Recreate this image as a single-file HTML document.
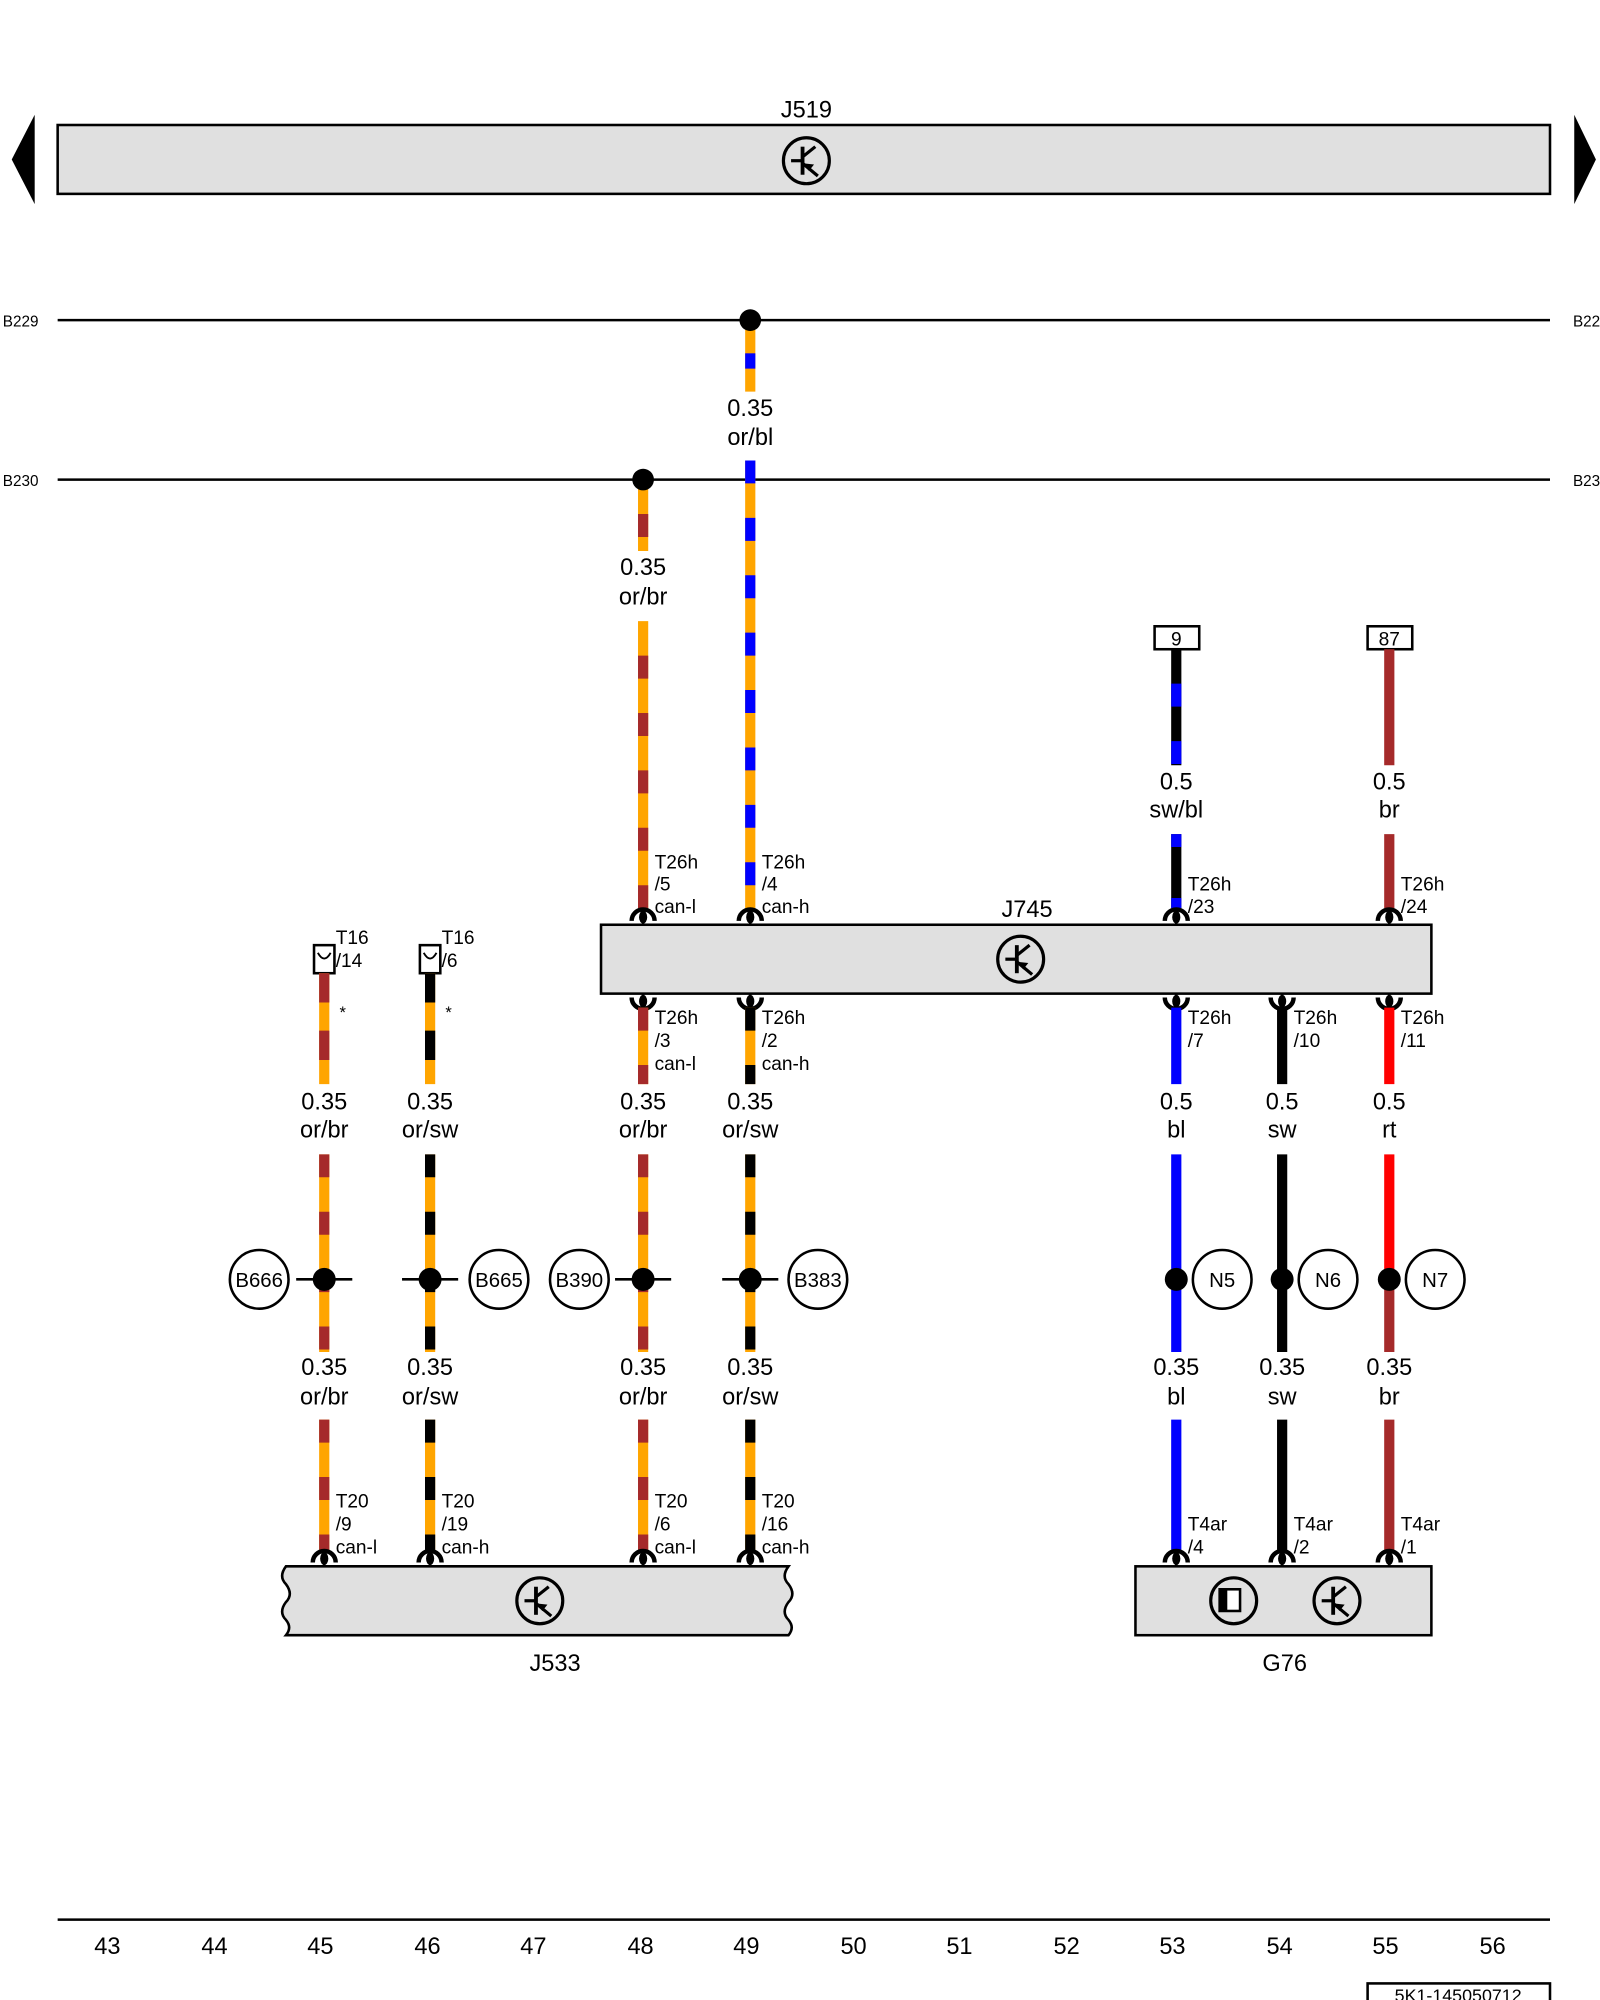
<!DOCTYPE html>
<html><head><meta charset="utf-8"><style>html,body{margin:0;padding:0;background:#fff}svg{display:block}</style></head>
<body>
<svg width="1600" height="2000" viewBox="0 0 1254 1568" xmlns="http://www.w3.org/2000/svg" font-family="Liberation Sans, sans-serif">
<defs>
<g id="ct"><path d="M-9,-3 a9,9 0 0 1 18,0" fill="none" stroke="#000" stroke-width="3.5"/><ellipse cx="0" cy="-6" rx="3.2" ry="5" fill="#000"/><line x1="0" y1="-6" x2="0" y2="0" stroke="#000" stroke-width="2"/></g>
<g id="cb"><g transform="scale(1,-1)"><use href="#ct"/></g></g>
<g id="tr"><circle r="18" fill="none" stroke="#000" stroke-width="2.5"/><line x1="-3" y1="-11" x2="-3" y2="11" stroke="#000" stroke-width="3"/><line x1="-12" y1="0" x2="-3" y2="0" stroke="#000" stroke-width="2.5"/><line x1="-3" y1="-3" x2="7" y2="-11" stroke="#000" stroke-width="2.5"/><line x1="-3" y1="2" x2="9" y2="12" stroke="#000" stroke-width="2.5"/><polygon points="-3,2 6,3 2,8" fill="#000"/></g>
</defs>
<style>.n{font-size:18.5px;text-anchor:middle}.t{font-size:15px}.w{stroke-width:8}</style>

<rect x="45" y="98" width="1170" height="54" fill="#e0e0e0" stroke="#000" stroke-width="2"/>
<text x="632" y="92" class="n">J519</text>
<use href="#tr" x="632" y="126"/>
<polygon points="27,90 27,160 9,125" fill="#000"/>
<polygon points="1234,90 1234,160 1251,125" fill="#000"/>

<line x1="45" y1="251" x2="1215" y2="251" stroke="#000" stroke-width="2"/>
<line x1="45" y1="376" x2="1215" y2="376" stroke="#000" stroke-width="2"/>
<text x="2" y="256" font-size="12">B229</text><text x="1233" y="256" font-size="12">B22</text>
<text x="2" y="381" font-size="12">B230</text><text x="1233" y="381" font-size="12">B23</text>

<line x1="588" y1="251" x2="588" y2="307" stroke="orange" class="w"/>
<line x1="588" y1="251" x2="588" y2="307" stroke="#00f" class="w" stroke-dasharray="12 26" stroke-dashoffset="-26"/>
<circle cx="588" cy="251" r="8.5"/>
<text x="588" y="326" class="n">0.35</text><text x="588" y="349" class="n">or/bl</text>
<line x1="588" y1="361" x2="588" y2="712" stroke="orange" class="w"/>
<line x1="588" y1="361" x2="588" y2="712" stroke="#00f" class="w" stroke-dasharray="18 27" stroke-dashoffset="0"/>

<line x1="504" y1="376" x2="504" y2="432" stroke="orange" class="w"/>
<line x1="504" y1="376" x2="504" y2="432" stroke="#a52a2a" class="w" stroke-dasharray="18 27" stroke-dashoffset="-27"/>
<circle cx="504" cy="376" r="8.5"/>
<text x="504" y="451" class="n">0.35</text><text x="504" y="474" class="n">or/br</text>
<line x1="504" y1="487" x2="504" y2="712" stroke="orange" class="w"/>
<line x1="504" y1="487" x2="504" y2="712" stroke="#a52a2a" class="w" stroke-dasharray="18 27" stroke-dashoffset="-27"/>

<rect x="905" y="491" width="35" height="18" fill="#fff" stroke="#000" stroke-width="2"/><text x="922" y="506" text-anchor="middle" font-size="15">9</text>
<rect x="1072" y="491" width="35" height="18" fill="#fff" stroke="#000" stroke-width="2"/><text x="1089" y="506" text-anchor="middle" font-size="15">87</text>
<line x1="922" y1="509" x2="922" y2="600" stroke="#000" class="w"/>
<line x1="922" y1="509" x2="922" y2="600" stroke="#00f" class="w" stroke-dasharray="18 27" stroke-dashoffset="-27"/>
<line x1="922" y1="654" x2="922" y2="712" stroke="#000" class="w"/>
<line x1="922" y1="654" x2="922" y2="712" stroke="#00f" class="w" stroke-dasharray="10 40"/>
<text x="922" y="619" class="n">0.5</text><text x="922" y="641" class="n">sw/bl</text>
<line x1="1089" y1="509" x2="1089" y2="600" stroke="#a52a2a" class="w"/>
<line x1="1089" y1="654" x2="1089" y2="712" stroke="#a52a2a" class="w"/>
<text x="1089" y="619" class="n">0.5</text><text x="1089" y="641" class="n">br</text>

<rect x="471" y="725" width="651" height="54" fill="#e0e0e0" stroke="#000" stroke-width="2"/>
<text x="805" y="719" class="n">J745</text>
<use href="#tr" x="800" y="752"/>
<use href="#ct" x="504" y="725"/><use href="#ct" x="588" y="725"/><use href="#ct" x="922" y="725"/><use href="#ct" x="1089" y="725"/>
<text class="t" x="513" y="681">T26h</text><text class="t" x="513" y="698">/5</text><text class="t" x="513" y="716">can-l</text>
<text class="t" x="597" y="681">T26h</text><text class="t" x="597" y="698">/4</text><text class="t" x="597" y="716">can-h</text>
<text class="t" x="931" y="698">T26h</text><text class="t" x="931" y="716">/23</text>
<text class="t" x="1098" y="698">T26h</text><text class="t" x="1098" y="716">/24</text>

<use href="#cb" x="504" y="779"/><use href="#cb" x="588" y="779"/><use href="#cb" x="922" y="779"/><use href="#cb" x="1005" y="779"/><use href="#cb" x="1089" y="779"/>
<text class="t" x="513" y="803">T26h</text><text class="t" x="513" y="821">/3</text><text class="t" x="513" y="839">can-l</text>
<text class="t" x="597" y="803">T26h</text><text class="t" x="597" y="821">/2</text><text class="t" x="597" y="839">can-h</text>
<text class="t" x="931" y="803">T26h</text><text class="t" x="931" y="821">/7</text>
<text class="t" x="1014" y="803">T26h</text><text class="t" x="1014" y="821">/10</text>
<text class="t" x="1098" y="803">T26h</text><text class="t" x="1098" y="821">/11</text>

<line x1="504" y1="790" x2="504" y2="850" stroke="orange" class="w"/><line x1="504" y1="790" x2="504" y2="850" stroke="#a52a2a" class="w" stroke-dasharray="18 27"/>
<line x1="588" y1="790" x2="588" y2="850" stroke="orange" class="w"/><line x1="588" y1="790" x2="588" y2="850" stroke="#000" class="w" stroke-dasharray="18 27"/>
<line x1="922" y1="790" x2="922" y2="850" stroke="#00f" class="w"/>
<line x1="1005" y1="790" x2="1005" y2="850" stroke="#000" class="w"/>
<line x1="1089" y1="790" x2="1089" y2="850" stroke="#f00" class="w"/>

<rect x="246" y="741" width="16" height="22" fill="#fff" stroke="#000" stroke-width="2"/><path d="M249,747 q5,9 10,0" fill="none" stroke="#000" stroke-width="1.5"/>
<rect x="329" y="741" width="16" height="22" fill="#fff" stroke="#000" stroke-width="2"/><path d="M332,747 q5,9 10,0" fill="none" stroke="#000" stroke-width="1.5"/>
<text class="t" x="263" y="740">T16</text><text class="t" x="263" y="758">/14</text>
<text class="t" x="346" y="740">T16</text><text class="t" x="346" y="758">/6</text>
<text x="266" y="798" font-size="13">*</text><text x="349" y="798" font-size="13">*</text>
<line x1="254" y1="763" x2="254" y2="850" stroke="orange" class="w"/><line x1="254" y1="763" x2="254" y2="850" stroke="#a52a2a" class="w" stroke-dasharray="23 22"/>
<line x1="337" y1="763" x2="337" y2="850" stroke="orange" class="w"/><line x1="337" y1="763" x2="337" y2="850" stroke="#000" class="w" stroke-dasharray="23 22"/>

<g class="n">
<text x="254" y="870">0.35</text><text x="254" y="892">or/br</text>
<text x="337" y="870">0.35</text><text x="337" y="892">or/sw</text>
<text x="504" y="870">0.35</text><text x="504" y="892">or/br</text>
<text x="588" y="870">0.35</text><text x="588" y="892">or/sw</text>
<text x="922" y="870">0.5</text><text x="922" y="892">bl</text>
<text x="1005" y="870">0.5</text><text x="1005" y="892">sw</text>
<text x="1089" y="870">0.5</text><text x="1089" y="892">rt</text>
</g>

<g class="w">
<line x1="254" y1="905" x2="254" y2="1060" stroke="orange"/><line x1="254" y1="905" x2="254" y2="1060" stroke="#a52a2a" stroke-dasharray="18 27"/>
<line x1="337" y1="905" x2="337" y2="1060" stroke="orange"/><line x1="337" y1="905" x2="337" y2="1060" stroke="#000" stroke-dasharray="18 27"/>
<line x1="504" y1="905" x2="504" y2="1060" stroke="orange"/><line x1="504" y1="905" x2="504" y2="1060" stroke="#a52a2a" stroke-dasharray="18 27"/>
<line x1="588" y1="905" x2="588" y2="1060" stroke="orange"/><line x1="588" y1="905" x2="588" y2="1060" stroke="#000" stroke-dasharray="18 27"/>
<line x1="922" y1="905" x2="922" y2="1060" stroke="#00f"/>
<line x1="1005" y1="905" x2="1005" y2="1060" stroke="#000"/>
<line x1="1089" y1="905" x2="1089" y2="1003" stroke="#f00"/>
<line x1="1089" y1="1003" x2="1089" y2="1060" stroke="#a52a2a"/>
</g>
<g stroke="#000" stroke-width="2">
<line x1="232" y1="1003" x2="276" y2="1003"/><line x1="315" y1="1003" x2="359" y2="1003"/>
<line x1="482" y1="1003" x2="526" y2="1003"/><line x1="566" y1="1003" x2="610" y2="1003"/>
</g>
<g>
<circle cx="254" cy="1003" r="9"/><circle cx="337" cy="1003" r="9"/><circle cx="504" cy="1003" r="9"/><circle cx="588" cy="1003" r="9"/>
<circle cx="922" cy="1003" r="9"/><circle cx="1005" cy="1003" r="9"/><circle cx="1089" cy="1003" r="9"/>
</g>
<g fill="#fff" stroke="#000" stroke-width="2">
<circle cx="203" cy="1003" r="23"/><circle cx="391" cy="1003" r="23"/><circle cx="454" cy="1003" r="23"/><circle cx="641" cy="1003" r="23"/>
<circle cx="958" cy="1003" r="23"/><circle cx="1041" cy="1003" r="23"/><circle cx="1125" cy="1003" r="23"/>
</g>
<g text-anchor="middle" font-size="16">
<text x="203" y="1009">B666</text><text x="391" y="1009">B665</text><text x="454" y="1009">B390</text><text x="641" y="1009">B383</text>
<text x="958" y="1009">N5</text><text x="1041" y="1009">N6</text><text x="1125" y="1009">N7</text>
</g>

<g class="n">
<text x="254" y="1078">0.35</text><text x="254" y="1101">or/br</text>
<text x="337" y="1078">0.35</text><text x="337" y="1101">or/sw</text>
<text x="504" y="1078">0.35</text><text x="504" y="1101">or/br</text>
<text x="588" y="1078">0.35</text><text x="588" y="1101">or/sw</text>
<text x="922" y="1078">0.35</text><text x="922" y="1101">bl</text>
<text x="1005" y="1078">0.35</text><text x="1005" y="1101">sw</text>
<text x="1089" y="1078">0.35</text><text x="1089" y="1101">br</text>
</g>

<g class="w">
<line x1="254" y1="1113" x2="254" y2="1215" stroke="orange"/><line x1="254" y1="1113" x2="254" y2="1215" stroke="#a52a2a" stroke-dasharray="18 27"/>
<line x1="337" y1="1113" x2="337" y2="1215" stroke="orange"/><line x1="337" y1="1113" x2="337" y2="1215" stroke="#000" stroke-dasharray="18 27"/>
<line x1="504" y1="1113" x2="504" y2="1215" stroke="orange"/><line x1="504" y1="1113" x2="504" y2="1215" stroke="#a52a2a" stroke-dasharray="18 27"/>
<line x1="588" y1="1113" x2="588" y2="1215" stroke="orange"/><line x1="588" y1="1113" x2="588" y2="1215" stroke="#000" stroke-dasharray="18 27"/>
<line x1="922" y1="1113" x2="922" y2="1215" stroke="#00f"/>
<line x1="1005" y1="1113" x2="1005" y2="1215" stroke="#000"/>
<line x1="1089" y1="1113" x2="1089" y2="1215" stroke="#a52a2a"/>
</g>

<path d="M224,1228 L618,1228 q-6,8 0,14 q6,8 0,14 q-6,8 0,14 q5,6 0,12 L224,1282 q5,-6 0,-12 q-6,-6 0,-14 q6,-6 0,-14 q-6,-6 0,-14 Z" fill="#e0e0e0" stroke="#000" stroke-width="2"/>
<use href="#tr" x="423" y="1255"/>
<text x="435" y="1310" class="n">J533</text>
<use href="#ct" x="254" y="1228"/><use href="#ct" x="337" y="1228"/><use href="#ct" x="504" y="1228"/><use href="#ct" x="588" y="1228"/>
<text class="t" x="263" y="1182">T20</text><text class="t" x="263" y="1200">/9</text><text class="t" x="263" y="1218">can-l</text>
<text class="t" x="346" y="1182">T20</text><text class="t" x="346" y="1200">/19</text><text class="t" x="346" y="1218">can-h</text>
<text class="t" x="513" y="1182">T20</text><text class="t" x="513" y="1200">/6</text><text class="t" x="513" y="1218">can-l</text>
<text class="t" x="597" y="1182">T20</text><text class="t" x="597" y="1200">/16</text><text class="t" x="597" y="1218">can-h</text>

<rect x="890" y="1228" width="232" height="54" fill="#e0e0e0" stroke="#000" stroke-width="2"/>
<circle cx="967" cy="1255" r="18" fill="none" stroke="#000" stroke-width="2.5"/>
<rect x="956" y="1246" width="16" height="17" fill="#fff" stroke="#000" stroke-width="2"/><rect x="956" y="1246" width="6" height="17" fill="#000"/>
<use href="#tr" x="1048" y="1255"/>
<text x="1007" y="1310" class="n">G76</text>
<use href="#ct" x="922" y="1228"/><use href="#ct" x="1005" y="1228"/><use href="#ct" x="1089" y="1228"/>
<text class="t" x="931" y="1200">T4ar</text><text class="t" x="931" y="1218">/4</text>
<text class="t" x="1014" y="1200">T4ar</text><text class="t" x="1014" y="1218">/2</text>
<text class="t" x="1098" y="1200">T4ar</text><text class="t" x="1098" y="1218">/1</text>

<line x1="45" y1="1505" x2="1215" y2="1505" stroke="#000" stroke-width="2"/>
<g class="n">
<text x="84" y="1532">43</text><text x="168" y="1532">44</text><text x="251" y="1532">45</text><text x="335" y="1532">46</text><text x="418" y="1532">47</text><text x="502" y="1532">48</text><text x="585" y="1532">49</text><text x="669" y="1532">50</text><text x="752" y="1532">51</text><text x="836" y="1532">52</text><text x="919" y="1532">53</text><text x="1003" y="1532">54</text><text x="1086" y="1532">55</text><text x="1170" y="1532">56</text>
</g>
<rect x="1072" y="1555" width="143" height="20" fill="#fff" stroke="#000" stroke-width="2"/>
<text x="1143" y="1569" text-anchor="middle" font-size="14">5K1-145050712</text>
</svg>
</body></html>
